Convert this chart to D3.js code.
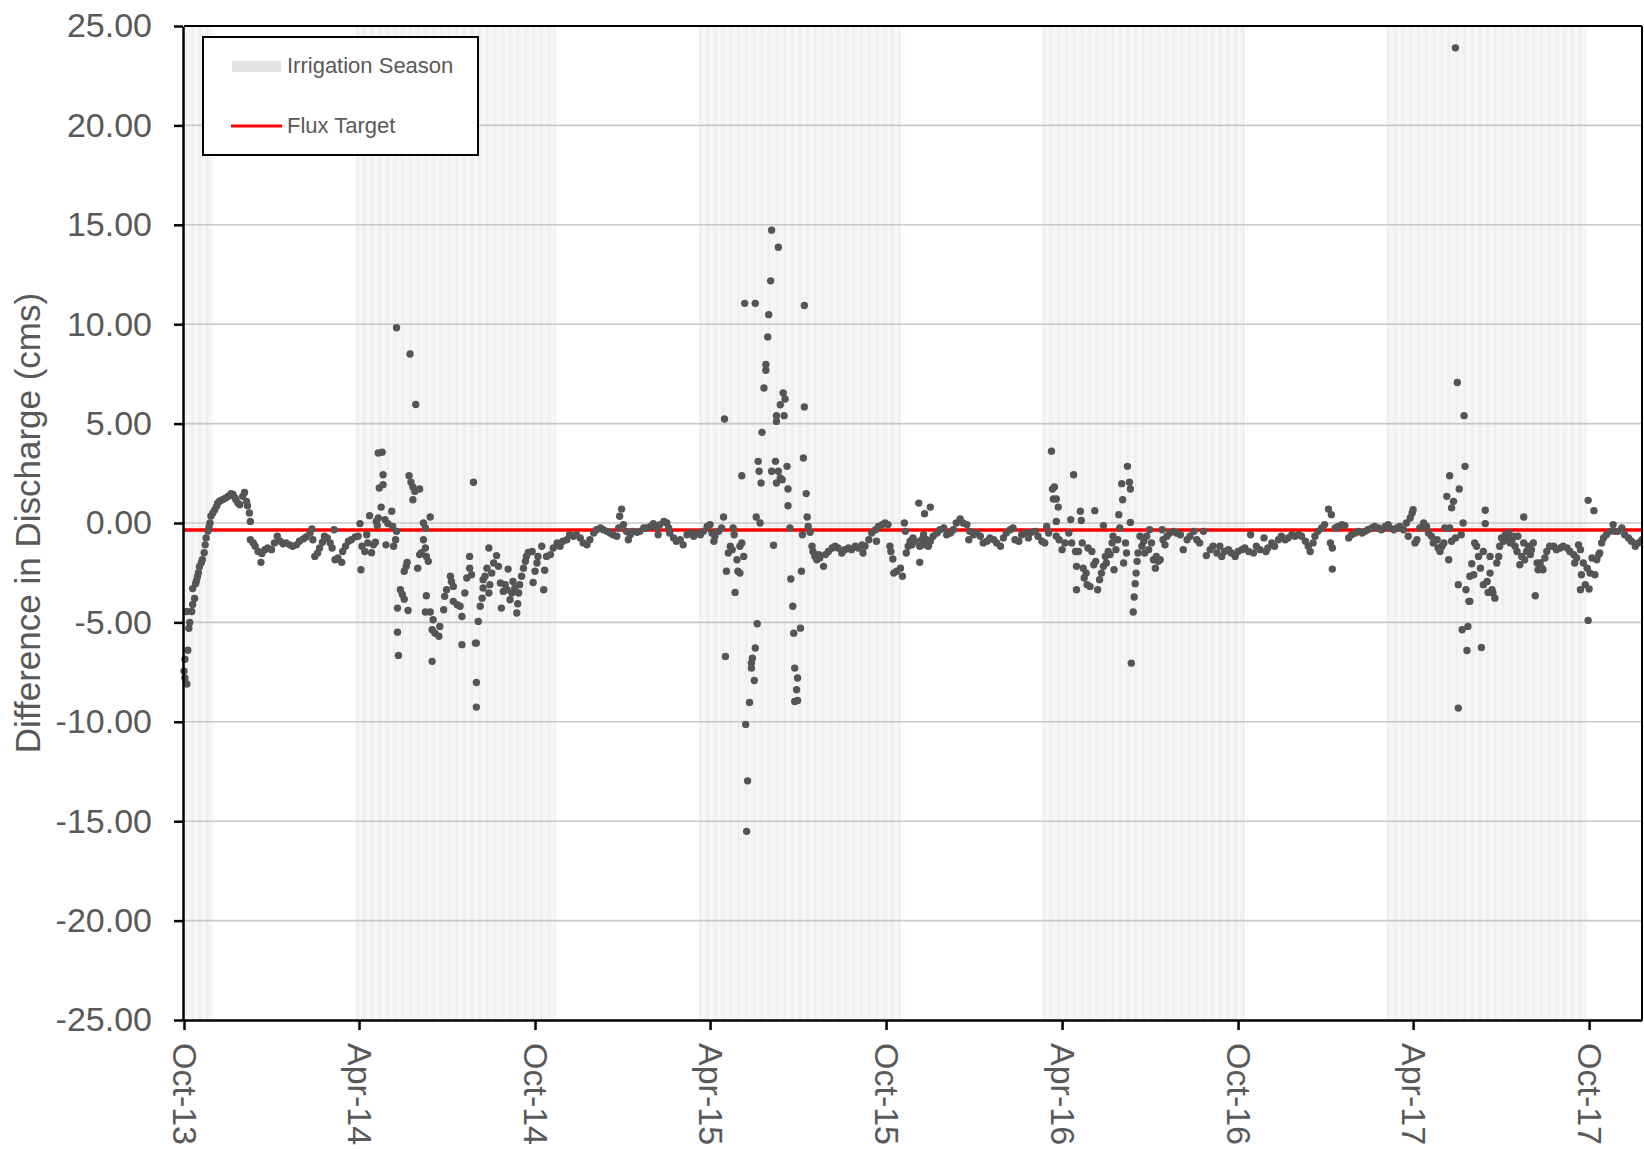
<!DOCTYPE html>
<html>
<head>
<meta charset="utf-8">
<title>Difference in Discharge</title>
<script src="https://cdn.jsdelivr.net/npm/d3@7"></script>
<style>
  body { margin: 0; background: #ffffff; }
  svg { display: block; }
  text { font-family: "Liberation Sans", Arial, Helvetica, sans-serif; }
</style>
</head>
<body>
<svg id="chart" width="1644" height="1149"></svg>
<script>
// ---- Record period and axis ticks ----
const recordStart = "2013-10-01";
const recordEnd = "2017-11-25";
const yTicks = [-25, -20, -15, -10, -5, 0, 5, 10, 15, 20, 25];
const xTickDates = ["2013-10-01", "2014-04-01", "2014-10-01", "2015-04-01", "2015-10-01",
                    "2016-04-01", "2016-10-01", "2017-04-01", "2017-10-01"];
const xTickLabels = ["Oct-13", "Apr-14", "Oct-14", "Apr-15", "Oct-15",
                     "Apr-16", "Oct-16", "Apr-17", "Oct-17"];

// ---- Irrigation seasons ----
const irrigationStart = ["2013-10-01", "2014-03-29", "2015-03-21", "2016-03-12", "2017-03-05"];
const irrigationEnd   = ["2013-10-31", "2014-10-23", "2015-10-16", "2016-10-08", "2017-09-29"];

// ---- Flux target (cms) ----
const fluxTarget = -0.35;

// ---- Daily difference in discharge (cms): [day of record, value] ----
const obsFall2013 = [
  [0,-7.45],[1,-7.8],[3,-8.1],[1,-6.85],[4,-6.4],[5,-5.3],[6,-5.0],[3,-4.45],[8,-4.45],[9,-4.1],
  [11,-3.8],[9,-3.3],[12,-3.05],[13,-2.9],[14,-2.7],[15,-2.5],[16,-2.2],[18,-2.0],[19,-1.85],[21,-1.5],
  [22,-1.1],[23,-0.75],[25,-0.4],[26,-0.2],[27,0],[28,0.35],[30,0.5],[32,0.67],[34,0.85],[35,1.0],
  [37,1.1],[40,1.17],[43,1.25],[46,1.35],[49,1.48],[51,1.43],[53,1.26],[54,1.17],[56,1.0],[58,0.92],
  [61,1.34],[63,1.54],[65,1.09],[66,0.87],[68,0.5],[69,0.08],[69,-0.84],[72,-1.0],[74,-1.17],[77,-1.43],
  [80,-1.98],[81,-1.54],[84,-1.34],[87,-1.26],[91,-1.34],[94,-1.0],[97,-0.67],[100,-0.92],[103,-1.04],[106,-1.0],
  [110,-1.1],[113,-1.17],[117,-1.1],[120,-0.92],[124,-0.8],[127,-0.7],[131,-0.5],[133,-0.3],[134,-0.84],[136,-1.68],
  [139,-1.51],[141,-1.26],[144,-0.97],[146,-0.67],[149,-0.75],[152,-1.0],[154,-1.26],[156,-0.34],[157,-1.85],[160,-1.76],
  [164,-1.98],[165,-1.43],[168,-1.17],[171,-0.92],[174,-0.84],[178,-0.7],[181,-0.67],[183,-0.03],[184,-2.35],[185,-1.17],
  [188,-1.43],[190,-0.59],[191,-1.0],[193,0.37],[195,-1.5],[197,-1.1],[199,-0.97],[200,0.08],[201,-0.13]
];

const obsYear2014 = [
  [202,3.52],[206,3.56],[203,1.76],[207,2.43],[207,1.93],[205,0.8],[202,0.25],[209,0.17],[210,-1.1],[212,-0.03],
  [216,0.59],[217,-0.17],[218,-1.17],[220,-0.84],[221,-0.42],[222,-4.28],[222,-5.49],[223,-6.66],[225,-3.36],[227,-3.6],
  [229,-3.83],[229,-2.43],[231,-2.18],[232,-1.98],[233,-4.4],[234,2.38],[236,2.05],[238,1.81],[240,1.59],[238,1.17],
  [241,5.96],[243,-2.27],[245,-1.59],[221,9.82],[235,8.5],
  [245,1.71],[249,0],[251,-0.25],[249,-0.84],[251,-1.26],[247,-1.5],[252,-1.68],[254,-1.93],[256,0.3],[252,-3.66],
  [251,-4.48],[256,-4.48],[259,-4.87],[258,-5.37],[261,-5.54],[265,-5.7],[266,-5.2],[270,-4.36],[258,-6.96],[271,-3.69],
  [273,-3.36],[277,-2.68],[278,-2.94],[280,-3.19],[280,-3.94],[284,-4.11],[287,-4.19],[289,-4.7],[289,-6.12],[292,-3.52],
  [294,-2.77],[297,-2.27],[297,-1.68],[299,-2.6],[301,2.05],[303,-6.04],[304,-6.04],[304,-8.02],[304,-9.26],[306,-4.95],
  [308,-4.19],[310,-3.78],[311,-3.27],[311,-2.85],[313,-2.68],[315,-2.27],[317,-1.26],[317,-3.52],[318,-3.1],[320,-2.52],
  [322,-2.01],[325,-1.64],[327,-2.18],[329,-3.02],[330,-4.28],[332,-3.44],[334,-3.1],[336,-3.36],[337,-2.32],[339,-3.86],
  [341,-3.52],[342,-2.94],[344,-3.27],[346,-4.53],[347,-4.06],[348,-3.52],[349,-3.1],[351,-2.68],[353,-2.27],[355,-1.93],
  [356,-1.68],[358,-1.48],[362,-1.43],[363,-2.99],[365,-2.43],[367,-2.01],[368,-1.68],[372,-1.17],[374,-3.36],[375,-2.38],
  [377,-1.68],[381,-1.59],[384,-1.26],[388,-1.0],[391,-1.17],[394,-0.92],[398,-0.84],[401,-0.59],[405,-0.67],[408,-0.59],
  [412,-0.75],[415,-1.0],[419,-1.1],[422,-0.84],[426,-0.5],[429,-0.34],[433,-0.25],[436,-0.34],[440,-0.42],[443,-0.5],
  [446,-0.59],[450,-0.67],[452,-0.25],[453,0.34],[455,0.7],[457,-0.08],[460,-0.42],[462,-0.84],[464,-0.59],[467,-0.42],
  [471,-0.47],[474,-0.42],[478,-0.25],[481,-0.25],[485,-0.17],[488,-0.03],[492,-0.25],[493,-0.59]
];

const obsYear2015 = [
  [495,-0.08],[499,0.08],[502,0],[504,-0.25],[505,-0.5],[509,-0.75],[512,-0.92],[516,-0.84],[519,-1.1],[523,-0.59],
  [526,-0.5],[530,-0.67],[533,-0.5],[537,-0.59],[540,-0.42],[544,-0.17],[547,-0.08],[549,-0.5],[551,-0.92],[552,-0.67],
  [556,-0.42],[559,-0.25],[561,0.3],[563,-6.71],[562,5.23],[564,-2.43],[566,-1.51],[568,-1.17],[570,-1.34],[571,-0.25],
  [572,-0.59],[573,-3.49],[575,-1.85],[576,-2.43],[578,-2.52],[578,-1.17],[580,-1.0],[582,-1.68],[580,2.38],[595,0.3],
  [596,-5.07],[597,3.1],[598,2.6],[600,2.01],[599,0],[594,-6.29],[591,-6.8],[590,-7.05],[590,-7.3],[593,-7.92],
  [588,-9.03],[601,4.56],[613,-1.12],[615,3.1],[616,2.01],[611,2.6],[618,2.6],[620,2.26],[622,2.18],[627,2.85],
  [628,1.71],[628,0.87],[630,-0.25],[631,-2.82],[633,-4.19],[634,-5.54],[635,-7.3],[638,-7.8],[637,-8.39],[635,-8.98],
  [638,-8.93],[641,-5.29],[642,-2.43],[643,-0.59],[644,3.27],[647,1.48],[648,0.3],[649,-0.17],[651,-0.47],[653,-1.17],
  [654,-1.43],[656,-1.68],[658,-1.85],[660,-1.59],[661,-1.76],[665,-2.18],[667,-1.59],[670,-1.43],[674,-1.26],[677,-1.17],
  [680,-1.26],[684,-1.51],[687,-1.34],[691,-1.26],[694,-1.34],[698,-1.17],[701,-1.26],[705,-1.1],[706,-1.51],[708,-1.17],
  [712,-0.84],[715,-0.5],[719,-0.34],[720,-0.92],[722,-0.17],[726,-0.08],[729,0],[732,-0.08],[734,-1.17],[735,-1.43],
  [737,-1.81],[738,-2.52],[741,-2.43],
  [611,14.73],[618,13.87],[610,12.18],[583,11.05],[594,11.05],[645,10.94],[608,10.48],[607,9.36],[605,7.97],[605,7.68],
  [603,6.79],[623,6.54],[625,6.24],[620,5.95],[624,5.4],[616,5.4],[616,5.11],[645,5.84],
  [584,-10.13],[586,-12.97],[585,-15.51]
];

const obsYear2016 = [
  [745,-2.27],[747,-2.68],[749,0],[750,-0.42],[751,-1.51],[753,-1.17],[755,-0.92],[757,-1.1],[758,-0.75],[760,-0.92],
  [764,1.0],[765,-1.98],[765,-1.17],[767,-0.84],[769,-0.59],[770,0.47],[771,-1.1],[772,-0.84],[774,-1.17],[776,0.8],
  [776,-0.92],[779,-0.67],[783,-0.5],[786,-0.34],[790,-0.25],[793,-0.59],[797,-0.5],[800,-0.34],[803,0],[807,0.2],
  [810,0],[814,-0.08],[816,-0.84],[817,-0.42],[821,-0.59],[824,-0.5],[828,-0.67],[831,-1.0],[835,-0.92],[838,-0.75],
  [842,-0.84],[845,-1.0],[849,-1.17],[852,-0.75],[855,-0.5],[859,-0.34],[862,-0.25],[864,-0.84],[868,-0.92],[871,-0.59],
  [875,-0.5],[878,-0.75],[881,-0.47],[885,-0.42],[888,-0.67],[892,-0.92],[895,-1.0],[897,-0.17],[899,-0.5],
  [902,3.61],[903,1.71],[905,1.81],[904,1.21],[907,1.21],[909,0.8],[907,0.08],[907,-0.67],[910,-0.84],[913,-1.34],
  [916,-1.0],[920,-0.5],[922,0.17],[923,-1.0],[925,2.43],[927,-1.43],[928,-2.18],[928,-3.36],[930,-1.43],[932,0.59],
  [933,0.13],[934,-1.0],[935,-2.27],[936,-2.77],[938,-2.52],[939,-3.1],[940,-1.26],[942,-3.19],[944,-1.43],[946,-2.1],
  [948,-1.93],[947,0.62],[950,-3.36],[952,-2.85],[954,-2.52],[956,-2.18],[956,-0.13],[958,-1.68],[959,-2.01],[961,-1.43],
  [963,-1.59],[965,-1.0],[966,-0.67],[967,-2.35],[969,-1.34],[971,-0.84],[972,0.42],[973,-0.25],[975,1.98],[976,1.17],
  [977,-2.01],[979,-1.0],[980,-1.51],[981,2.85],[983,2.05],[984,1.71],[984,0.03],[985,-7.05],[987,-4.48],[988,-3.72],
  [989,-3.05],[990,-2.52],[991,-1.93],[992,-1.51],
  [994,-0.67],[996,-1.17],[998,-0.92],[999,-1.51],[1001,-0.67],[1003,-1.34],[1004,-0.34],[1006,-1.0],[1008,-1.85],[1010,-2.27],
  [1011,-1.68],[1013,-1.93],[1015,-1.85],[1017,-0.34],[1018,-0.84],[1020,-1.1],[1022,-0.67],[1025,-0.5],[1029,-0.42],[1032,-0.5],
  [1036,-0.59],[1039,-1.34],[1043,-0.84],[1046,-0.67],[1050,-0.42],[1053,-0.84],[1056,-1.0],[1060,-0.42],[1063,-1.64],[1067,-1.34],
  [1070,-1.17],[1074,-1.51],[1077,-1.17],[1079,-1.68],[1082,-1.43],[1086,-1.34],[1089,-1.51],[1093,-1.68]
];

const obsYear2017 = [
  [1096,-1.43],[1100,-1.34],[1103,-1.26],[1107,-1.43],[1109,-0.59],[1112,-1.51],[1115,-1.17],[1119,-1.34],[1123,-0.75],[1125,-1.43],
  [1127,-1.26],[1131,-1.0],[1134,-1.17],[1138,-0.84],[1141,-0.67],[1145,-0.84],[1148,-0.75],[1152,-0.59],[1155,-0.67],[1159,-0.59],
  [1162,-0.67],[1166,-0.92],[1169,-1.17],[1171,-1.43],[1174,-1.0],[1176,-0.67],[1179,-0.42],[1183,-0.25],[1186,-0.08],[1190,0.7],
  [1193,0.42],[1192,-1.0],[1194,-1.26],[1194,-2.32],[1197,-0.25],[1200,-0.17],[1204,-0.08],[1207,-0.13],[1211,-0.75],[1214,-0.59],
  [1218,-0.5],[1221,-0.42],[1225,-0.5],[1228,-0.42],[1231,-0.34],[1235,-0.25],[1238,-0.17],[1242,-0.25],[1245,-0.34],[1249,-0.17],
  [1252,-0.08],[1254,-0.25],[1258,-0.34],[1261,-0.25],[1264,-0.17],[1268,-0.34],[1271,0],[1273,-0.67],[1275,0.25],[1277,0.5],
  [1278,0.67],[1280,-1.0],[1282,-0.84],[1285,-0.25],[1289,0],[1292,-0.17],[1294,-0.5],[1297,-0.67],[1299,-1.0],[1303,-0.84],
  [1304,-1.26],[1306,-1.43],[1308,-1.17],[1310,-1.0],[1311,-0.25],[1313,1.34],[1315,-1.85],[1316,2.38],[1316,-0.25],[1318,0.76],
  [1318,-0.92],[1320,1.09],[1322,-0.75],[1325,-3.1],[1326,1.71],[1325,-9.31],[1328,-0.59],[1329,-5.37],[1330,0],[1331,5.4],
  [1332,2.85],[1333,-3.36],[1334,-6.41],[1335,-5.2],[1336,-3.94],[1337,-3.94],[1339,-2.05],[1337,-2.68],[1341,-2.6],[1342,-1.0],
  [1344,-1.17],[1346,-1.68],[1348,-2.27],[1349,-6.26],[1351,-1.43],[1351,-3.1],[1353,0.64],[1353,-0.03],[1355,-2.94],[1356,-3.49],
  [1358,-1.68],[1358,-2.52],[1360,-3.36],[1361,-3.52],[1363,-3.78],[1365,-2.01],[1367,-1.68],[1368,-1.17],[1370,-0.75],[1372,-0.92],
  [1374,-0.59],[1375,-0.75],[1377,-0.5],[1379,-1.0],[1381,-0.84],[1382,-0.67],[1384,-1.17],[1386,-1.43],[1387,-0.67],[1389,-2.1],
  [1391,-1.68],[1393,0.3],[1393,-1.0],[1394,-1.85],[1396,-1.43],[1398,-1.17],[1400,-1.59],[1401,-1.34],[1403,-1.0],[1405,-3.66],
  [1407,-2.01],[1408,-2.35],[1410,-2.01],[1412,-2.27],[1413,-2.35],[1415,-1.76],[1417,-1.43],[1420,-1.17],[1424,-1.17],[1427,-1.34],
  [1431,-1.26],[1434,-1.17],[1438,-1.26],[1441,-1.43],[1445,-1.59],[1446,-2.01],[1448,-1.76],[1450,-1.1],[1452,-1.34],[1452,-3.36],
  [1453,-2.6],[1455,-2.01],[1457,-3.1],[1459,-2.27],[1460,1.14],[1460,-4.9],[1461,-3.32],
  [1322,23.9],[1324,7.07]
];

const obsFall2017 = [
  [1462,-2.52],[1464,-1.76],[1466,0.62],[1467,-2.6],[1469,-1.85],[1471,-1.59],[1472,-1.51],[1474,-1.0],[1476,-0.75],[1479,-0.59],
  [1483,-0.42],[1486,-0.08],[1488,-0.42],[1491,-0.42],[1495,-0.25],[1498,-0.59],[1502,-0.75],[1505,-0.92],[1509,-1.17],[1512,-1.0],
  [1516,-0.84]
];

// ---- Layout ----
const W = 1644, H = 1149;
const plot = { left: 184, right: 1642, top: 26, bottom: 1020 };
const textColor = "#595959";

const parseDate = d3.timeParse("%Y-%m-%d");
const startDate = parseDate(recordStart);
const x = d3.scaleTime()
  .domain([startDate, parseDate(recordEnd)])
  .range([plot.left, plot.right]);
const y = d3.scaleLinear()
  .domain([-25, 25])
  .range([plot.bottom, plot.top]);

const dayToDate = d => d3.timeDay.offset(startDate, d);
const fmt = d3.formatLocale({ decimal: ".", thousands: ",", grouping: [3], currency: ["", ""], minus: "-" }).format(".2f");

const svg = d3.select("#chart").attr("viewBox", `0 0 ${W} ${H}`);

svg.append("defs").append("clipPath").attr("id", "plot-clip")
  .append("rect")
  .attr("x", plot.left - 6).attr("y", plot.top)
  .attr("width", plot.right - plot.left + 6).attr("height", plot.bottom - plot.top);

// Irrigation season bands, drawn as narrow weekly columns
const bands = svg.append("g").attr("class", "irrigation");
irrigationStart.forEach((s, i) => {
  const s0 = parseDate(s), s1 = parseDate(irrigationEnd[i]);
  bands.append("rect")
    .attr("x", x(s0)).attr("y", plot.top)
    .attr("width", x(s1) - x(s0)).attr("height", plot.bottom - plot.top)
    .attr("fill", "#f4f4f4");
  const nDays = d3.timeDay.count(s0, s1);
  const cols = d3.range(0, nDays, 8).map(k => d3.timeDay.offset(s0, k));
  bands.selectAll(null).data(cols).enter().append("line")
    .attr("x1", d => x(d) + 0.5).attr("x2", d => x(d) + 0.5)
    .attr("y1", plot.top).attr("y2", plot.bottom)
    .attr("stroke", "#eaeaea").attr("stroke-width", 1);
  bands.selectAll(null).data(cols).enter().append("line")
    .attr("x1", d => x(d3.timeDay.offset(d, 4)) + 0.5).attr("x2", d => x(d3.timeDay.offset(d, 4)) + 0.5)
    .attr("y1", plot.top).attr("y2", plot.bottom)
    .attr("stroke", "#fafafa").attr("stroke-width", 1);
});

// Horizontal gridlines
svg.append("g").attr("class", "grid")
  .selectAll("line").data(yTicks.filter(t => t > -25 && t < 25)).enter().append("line")
  .attr("x1", plot.left).attr("x2", plot.right)
  .attr("y1", d => y(d)).attr("y2", d => y(d))
  .attr("stroke", "#c8c8c8").attr("stroke-width", 1.6);

// Flux target line
svg.append("line")
  .attr("x1", plot.left).attr("x2", plot.right)
  .attr("y1", y(fluxTarget)).attr("y2", y(fluxTarget))
  .attr("stroke", "#ff0000").attr("stroke-width", 3.4);

// Observations
const allObs = [].concat(obsFall2013, obsYear2014, obsYear2015, obsYear2016, obsYear2017, obsFall2017);
svg.append("g").attr("clip-path", "url(#plot-clip)")
  .selectAll("circle").data(allObs).enter().append("circle")
  .attr("cx", d => x(dayToDate(d[0])))
  .attr("cy", d => y(d[1]))
  .attr("r", 3.7)
  .attr("fill", "#555555");

// Plot frame (top and right)
svg.append("line").attr("x1", plot.left).attr("x2", plot.right).attr("y1", plot.top).attr("y2", plot.top)
  .attr("stroke", "#000").attr("stroke-width", 2);
svg.append("line").attr("x1", plot.right).attr("x2", plot.right).attr("y1", plot.top).attr("y2", plot.bottom)
  .attr("stroke", "#000").attr("stroke-width", 2);

// Y axis
const yAxis = svg.append("g")
  .attr("transform", `translate(${plot.left - 1},0)`)
  .call(d3.axisLeft(y).tickValues(yTicks).tickFormat(fmt).tickSize(9).tickPadding(22).tickSizeOuter(0));
yAxis.select(".domain").attr("stroke", "#000").attr("stroke-width", 2.5);
yAxis.selectAll(".tick line").attr("stroke", "#000").attr("stroke-width", 2.5);
yAxis.selectAll(".tick text")
  .attr("fill", textColor)
  .style("font-size", "34px")
  .style("font-family", "'Liberation Sans', Arial, sans-serif");

// X axis
const xAxis = svg.append("g")
  .attr("transform", `translate(0,${plot.bottom})`)
  .call(d3.axisBottom(x).tickValues(xTickDates.map(parseDate))
    .tickFormat((d, i) => xTickLabels[i]).tickSize(10).tickSizeOuter(0));
xAxis.select(".domain").attr("stroke", "#000").attr("stroke-width", 2.5);
xAxis.selectAll(".tick line").attr("stroke", "#000").attr("stroke-width", 2.5);
xAxis.selectAll(".tick text")
  .attr("fill", textColor)
  .attr("transform", "rotate(90)")
  .attr("x", 23).attr("y", 0).attr("dy", "0.35em")
  .style("text-anchor", "start")
  .style("font-size", "34px")
  .style("font-family", "'Liberation Sans', Arial, sans-serif");

// Y axis title
svg.append("text")
  .attr("transform", `translate(40,${(plot.top + plot.bottom) / 2}) rotate(-90)`)
  .attr("text-anchor", "middle")
  .attr("fill", textColor)
  .style("font-size", "35px")
  .text("Difference in Discharge (cms)");

// Legend
const legend = svg.append("g").attr("class", "legend");
legend.append("rect")
  .attr("x", 203).attr("y", 37).attr("width", 275).attr("height", 118)
  .attr("fill", "#ffffff").attr("stroke", "#000").attr("stroke-width", 2);
legend.append("rect")
  .attr("x", 232).attr("y", 61).attr("width", 49).attr("height", 11)
  .attr("fill", "#e3e3e3");
legend.append("text")
  .attr("x", 287).attr("y", 73)
  .attr("fill", textColor).style("font-size", "22px")
  .text("Irrigation Season");
legend.append("line")
  .attr("x1", 231).attr("x2", 282).attr("y1", 126).attr("y2", 126)
  .attr("stroke", "#ff0000").attr("stroke-width", 3.2);
legend.append("text")
  .attr("x", 287).attr("y", 133)
  .attr("fill", textColor).style("font-size", "22px")
  .text("Flux Target");
</script>
</body>
</html>
